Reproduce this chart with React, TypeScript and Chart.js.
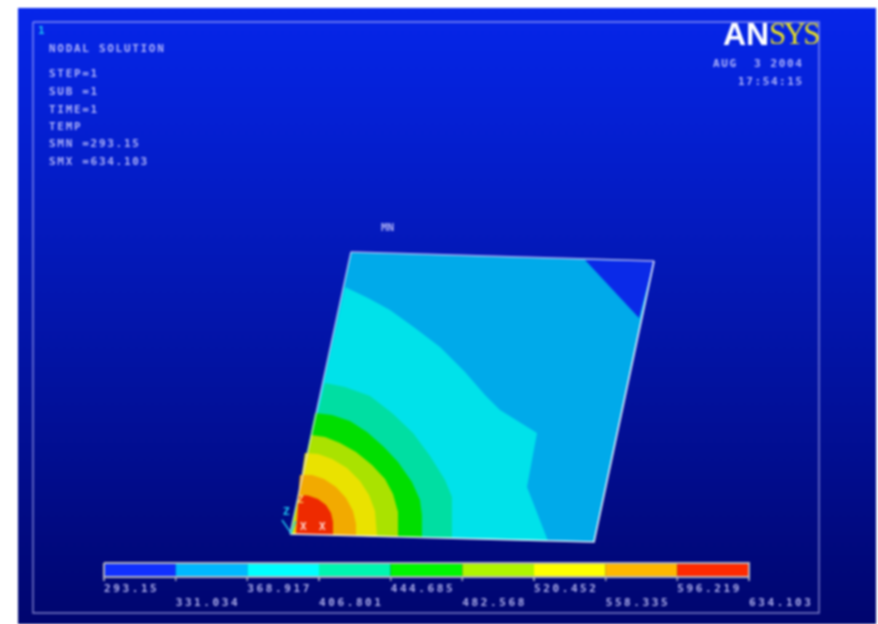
import React, { useEffect, useRef } from "react";
import { Chart, registerables } from "chart.js";

Chart.register(...registerables);

type P = [number, number];

// Contour geometry, in plot coordinates
const plateOutline: P[] = [[351, 252], [654, 261], [594, 542], [290, 534]];
const coldCorner: P[] = [[585, 260], [654, 261], [639, 318]];
const band368: P[] = [[345, 287], [368, 298], [390, 310], [415, 328], [440, 347], [465, 372], [485, 395], [500, 410], [537, 433], [527, 487], [548, 541], [290, 534]];
const band406: P[] = [[325, 383], [345, 387], [370, 396], [392, 413], [413, 433], [430, 456], [445, 480], [452, 497], [452, 538], [290, 534]];
const band444: P[] = [[315, 413], [332, 415], [350, 421], [367, 432], [384, 447], [398, 462], [412, 482], [420, 500], [422, 515], [422, 537.5], [290, 534]];
const band482: P[] = [[311, 435], [325, 437], [340, 443], [356, 452], [372, 465], [385, 479], [393, 494], [398, 512], [398, 537], [291, 534]];
const band520: P[] = [[305, 453], [318, 454], [332, 459], [347, 468], [360, 481], [369, 495], [375, 511], [377, 536], [293, 534]];
const band558: P[] = [[300, 475], [312, 475], [324, 479], [336, 487], [346, 498], [353, 511], [356, 524], [356, 536], [295, 534]];
const band596: P[] = [[299, 495], [308, 495.5], [318, 499], [326, 505], [331, 513], [333, 522], [333, 535], [296, 534]];
const frame: P[] = [[33, 22], [819, 22], [819, 613], [33, 613], [33, 22]];
const triadX: P[] = [[282, 520], [291, 533], [296, 521]];

// Contour levels, colours, legend labels
const levels = [293.15, 331.034, 368.917, 406.801, 444.685, 482.568, 520.452, 558.335, 596.219, 634.103];
const levelLabels = ["293.15", "331.034", "368.917", "406.801", "444.685", "482.568", "520.452", "558.335", "596.219", "634.103"];
const barColors = ["#1030ff", "#00b8ff", "#00ffff", "#00f5b0", "#00f500", "#b0f500", "#ffff00", "#ffb800", "#ff2a00"];
const plotColors = ["#0a2ae8", "#00aaea", "#00e2ea", "#00dea2", "#00de00", "#aae200", "#eae200", "#f2aa00", "#ee2a00"];

const infoLines = ["NODAL SOLUTION", "STEP=1", "SUB =1", "TIME=1", "TEMP", "SMN =293.15", "SMX =634.103"];
const dateLines = ["AUG  3 2004", "17:54:15"];

const polygon = (pts: P[], color: string, xAxisID = "x") => ({
  data: [...pts, pts[0]].map(([x, y]) => ({ x, y })),
  showLine: true,
  fill: "shape" as const,
  backgroundColor: color,
  borderWidth: 0,
  borderColor: color,
  pointRadius: 0,
  tension: 0,
  xAxisID,
  clip: false as const,
});

const stroke = (pts: P[], color: string, width: number, xAxisID = "x") => ({
  data: pts.map(([x, y]) => ({ x, y })),
  showLine: true,
  fill: false,
  borderColor: color,
  borderWidth: width,
  pointRadius: 0,
  tension: 0,
  xAxisID,
  clip: false as const,
});

const BAR_TOP = 563;
const BAR_BOTTOM = 577;

const paint: any[] = [
  polygon(plateOutline, plotColors[1]),
  polygon(coldCorner, plotColors[0]),
  polygon(band368, plotColors[2]),
  polygon(band406, plotColors[3]),
  polygon(band444, plotColors[4]),
  polygon(band482, plotColors[5]),
  polygon(band520, plotColors[6]),
  polygon(band558, plotColors[7]),
  polygon(band596, plotColors[8]),
  stroke([plateOutline[0], plateOutline[1]], "rgba(190,190,245,0.9)", 1.4),
  stroke([plateOutline[1], plateOutline[2], plateOutline[3]], "rgba(255,255,255,0.9)", 1.6),
  stroke([plateOutline[3], plateOutline[0]], "rgba(225,225,255,0.85)", 1.3),
  stroke(frame, "rgba(205,205,255,0.62)", 1.4),
  stroke(triadX, "#22c8ee", 1.4),
  ...barColors.map((c, i) =>
    polygon(
      [[levels[i], BAR_TOP], [levels[i + 1], BAR_TOP], [levels[i + 1], BAR_BOTTOM], [levels[i], BAR_BOTTOM]],
      c,
      "xBar"
    )
  ),
  stroke(
    [[levels[0], BAR_TOP], [levels[9], BAR_TOP], [levels[9], BAR_BOTTOM], [levels[0], BAR_BOTTOM], [levels[0], BAR_TOP]],
    "#b4b4c0",
    2,
    "xBar"
  ),
  ...levels.map((v) => stroke([[v, BAR_BOTTOM], [v, BAR_BOTTOM + 4]], "#b4b4c8", 1, "xBar")),
];

const backdrop = {
  id: "backdrop",
  beforeDraw(chart: any) {
    const { ctx, width, height } = chart;
    ctx.save();
    ctx.fillStyle = "#ffffff";
    ctx.fillRect(0, 0, width, height);
    const g = ctx.createLinearGradient(0, 8, 0, 624);
    g.addColorStop(0, "#0626ea");
    g.addColorStop(1, "#00056e");
    ctx.fillStyle = g;
    ctx.fillRect(18, 8, 858, 616);
    ctx.restore();
  },
};

const labels = {
  id: "labels",
  afterDatasetsDraw(chart: any) {
    const { ctx, scales } = chart;
    const text = "rgba(205,205,255,0.85)";
    const put = (s: string, x: number, y: number, font: string, color: string, spacing: string, align = "left") => {
      ctx.font = font;
      ctx.fillStyle = color;
      ctx.letterSpacing = spacing;
      ctx.textAlign = align;
      ctx.textBaseline = "middle";
      ctx.fillText(s, x, y);
    };
    ctx.save();
    const mono = 'bold 11px "DejaVu Sans Mono"';
    put("1", 38, 31, mono, "#20c8f0", "0px");
    const infoY = [49, 74, 92, 110, 127, 144, 162];
    infoLines.forEach((s, i) => put(s, 49, infoY[i], mono, text, "1.7px"));
    put(dateLines[0], 713, 64, mono, text, "1.6px");
    put(dateLines[1], 738, 82, mono, text, "1.6px");
    put("MN", 381, 228, mono, text, "0px");
    put("Z", 297, 500, mono, "#f8d060", "0px");
    put("Z", 283, 512, mono, "#20c8f0", "0px");
    put("X", 300, 527, mono, "#ffd8d0", "0px");
    put("X", 319, 527, mono, "#ffd8d0", "0px");
    levelLabels.forEach((s, i) => {
      const x = scales.xBar.getPixelForValue(levels[i]);
      put(s, x, i % 2 === 0 ? 589 : 603, mono, text, "2.6px");
    });
    put("AN", 723, 36, 'bold 32px "Liberation Sans"', "#ffffff", "0px");
    put("SYS", 769, 36, '31px "Liberation Serif"', "#e8e020", "-2.7px");
    ctx.restore();
  },
};

export default function App() {
  const ref = useRef<HTMLCanvasElement>(null);
  useEffect(() => {
    const chart = new Chart(ref.current as HTMLCanvasElement, {
      type: "scatter",
      data: { datasets: [...paint].reverse() },
      options: {
        animation: false,
        responsive: false,
        layout: { padding: 0 },
        plugins: { legend: { display: false }, tooltip: { enabled: false } },
        scales: {
          x: { type: "linear", display: false, min: 0, max: 878 },
          xBar: { type: "linear", display: false, min: 238.18, max: 702.3 },
          y: { type: "linear", display: false, min: 0, max: 624, reverse: true },
        },
      },
      plugins: [backdrop, labels],
    } as any);
    return () => chart.destroy();
  }, []);
  return (
    <div style={{ position: "fixed", left: 0, top: 0, width: 878, height: 624, overflow: "hidden", background: "#fff" }}>
      <canvas ref={ref} width={878} height={624} style={{ display: "block", filter: "blur(0.9px)" }} />
    </div>
  );
}
